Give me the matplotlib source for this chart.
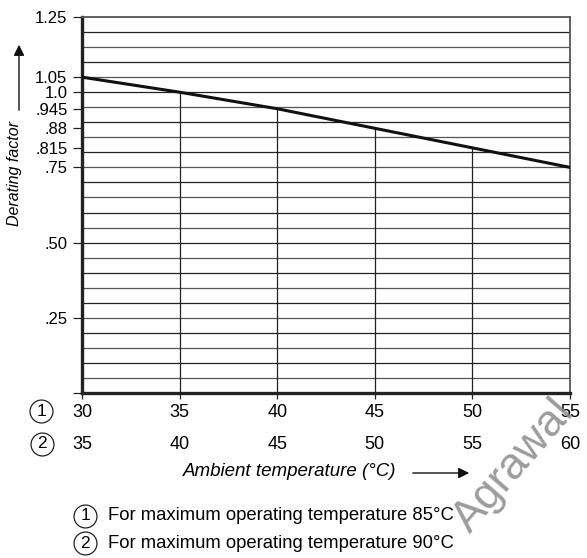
import numpy as np
import matplotlib.pyplot as plt
from matplotlib.lines import Line2D
from matplotlib.transforms import blended_transform_factory

plt.rcParams['font.family'] = ['Liberation Sans', 'DejaVu Sans']

# data
temp_85 = [30, 35, 40, 45, 50, 55]       # scale 1
temp_90 = [35, 40, 45, 50, 55, 60]       # scale 2
derating = [1.05, 1.0, 0.945, 0.88, 0.815, 0.75]
ytick_vals = [0, 0.25, 0.50, 0.75, 0.815, 0.88, 0.945, 1.0, 1.05, 1.25]
ytick_labels = ['', '.25', '.50', '.75', '.815', '.88', '.945', '1.0', '1.05', '1.25']
notes = ['For maximum operating temperature 85°C',
         'For maximum operating temperature 90°C']

fig = plt.figure(figsize=(5.87, 5.58), dpi=100)
ax = fig.add_axes([82/587, 1 - 393/558, (570-82)/587, (393-17)/558])

ax.set_xlim(30, 55)
ax.set_ylim(0, 1.25)

# horizontal grid every 0.05
for k, y in enumerate(np.arange(0.05, 1.25, 0.05)):
    ax.axhline(y, color='#222222' if k % 2 else '#555555', lw=0.9, zorder=1)

# vertical drop lines under the curve
ax.vlines(temp_85[1:-1], 0, derating[1:-1], color='#222222', lw=0.9, zorder=1)

ax.plot(temp_85, derating, color='#111111', lw=2.2, zorder=3)

for side in ['top', 'right']:
    ax.spines[side].set_linewidth(1.3)
    ax.spines[side].set_color('#555555')
for side in ['left', 'bottom']:
    ax.spines[side].set_linewidth(2.4)
    ax.spines[side].set_color('#222222')

ax.set_yticks(ytick_vals)
ax.set_yticklabels(ytick_labels, fontsize=12)
ax.tick_params(axis='y', length=6.5, width=0.9, pad=4, color='#222222')
ax.set_xticks(temp_85)
ax.set_xticklabels([])
ax.tick_params(axis='x', length=4, width=0.9, color='#222222')

# two rows of x labels
tr = blended_transform_factory(ax.transData, ax.transAxes)
for t1, t2 in zip(temp_85, temp_90):
    ax.text(t1, -0.053, str(t1), transform=tr, ha='center', va='center', fontsize=13)
    ax.text(t2 - 5, -0.138, str(t2), transform=tr, ha='center', va='center', fontsize=13)


def circled(x, y, s):
    # circled number, x/y in pixels from top-left
    fx, fy = x/587, 1 - y/558
    fig.add_artist(Line2D([fx], [fy], marker='o', ms=16.5, mfc='white',
                          mec='#222222', mew=0.9, transform=fig.transFigure))
    fig.text(fx, fy, s, ha='center', va='center', fontsize=12.5)


circled(41, 411, '1')
circled(42, 444, '2')

# axis titles with arrows
fig.text(290/587, 1 - 472/558, 'Ambient temperature (°C)', style='italic',
         ha='center', va='center', fontsize=13.5)
ax.annotate('', xy=(472/587, 1 - 473/558), xytext=(410/587, 1 - 473/558),
            xycoords='figure fraction', textcoords='figure fraction',
            arrowprops=dict(arrowstyle='-|>', color='#111111', lw=1.0,
                            mutation_scale=16))

fig.text(15/587, 1 - 174/558, 'Derating factor', style='italic', rotation=90,
         ha='center', va='center', fontsize=11.5)
ax.annotate('', xy=(19/587, 1 - 42/558), xytext=(19/587, 1 - 113/558),
            xycoords='figure fraction', textcoords='figure fraction',
            arrowprops=dict(arrowstyle='-|>', color='#111111', lw=1.0,
                            mutation_scale=16))

# notes
for i, note in enumerate(notes):
    yy = 516 + 27*i
    circled(85, yy, str(i + 1))
    fig.text(108/587, 1 - yy/558, note, ha='left', va='center', fontsize=13.3)

# watermark
fig.text(514/587, 1 - 466/558, 'Agrawal', rotation=49, color='#8a8a8a',
         fontsize=32, ha='center', va='center', alpha=0.85, zorder=0)

fig.savefig('out.png', dpi=100)
